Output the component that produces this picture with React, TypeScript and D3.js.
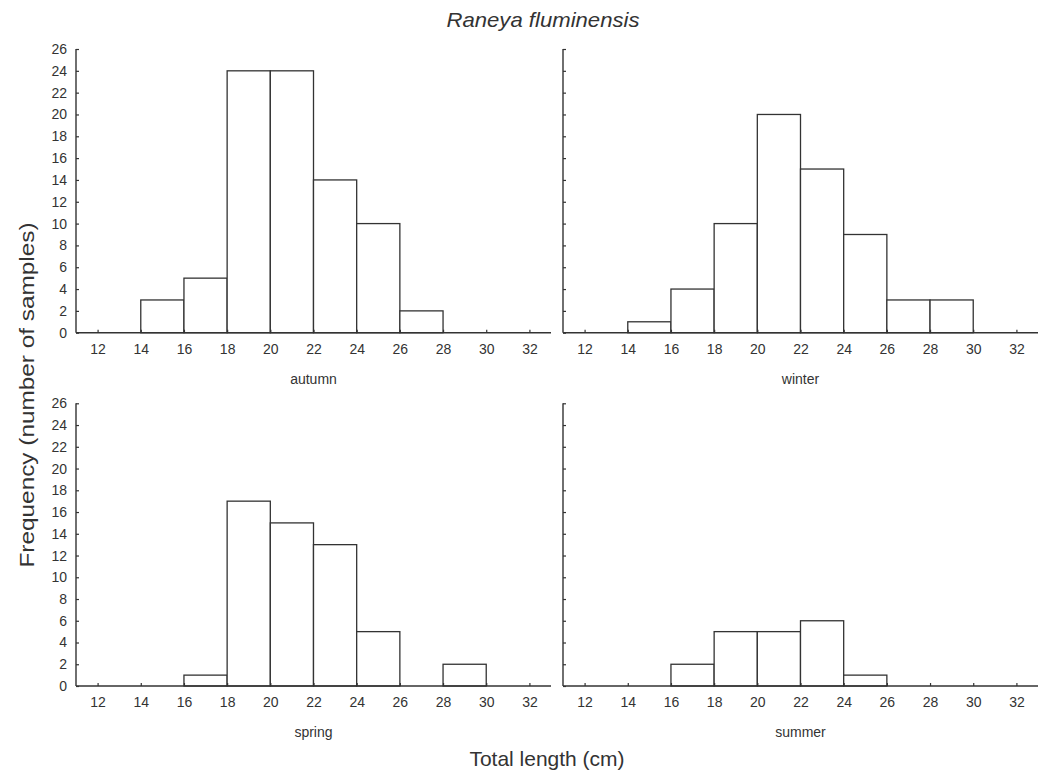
import * as d3 from 'd3'
import { useEffect, useRef } from 'react'

const WIDTH = 1042
const HEIGHT = 775
const INK = '#333333'
const FONT = 'Liberation Sans, Arial, sans-serif'

// bin lower edges (cm), bins are 2 cm wide
const binStarts = [12, 14, 16, 18, 20, 22, 24, 26, 28, 30]
const autumn = [0, 3, 5, 24, 24, 14, 10, 2, 0, 0]
const winter = [0, 1, 4, 10, 20, 15, 9, 3, 3, 0]
const spring = [0, 0, 1, 17, 15, 13, 5, 0, 2, 0]
const summer = [0, 0, 2, 5, 5, 6, 1, 0, 0, 0]
const seasons = ['autumn', 'winter', 'spring', 'summer']
const xTicks = [12, 14, 16, 18, 20, 22, 24, 26, 28, 30, 32]
const yTicks = [0, 2, 4, 6, 8, 10, 12, 14, 16, 18, 20, 22, 24, 26]

interface Panel {
  name: string
  counts: number[]
  x0: number
  x1: number
  yTop: number
  yBottom: number
  showYLabels: boolean
}

export default function App() {
  const svgRef = useRef<SVGSVGElement>(null)

  useEffect(() => {
    if (!svgRef.current) return
    const svg = d3.select(svgRef.current)
    svg.selectAll('*').remove()

    const panels: Panel[] = [
      { name: seasons[0], counts: autumn, x0: 76, x1: 551, yTop: 49, yBottom: 332.7, showYLabels: true },
      { name: seasons[1], counts: winter, x0: 563, x1: 1038, yTop: 49, yBottom: 332.7, showYLabels: false },
      { name: seasons[2], counts: spring, x0: 76, x1: 551, yTop: 403.3, yBottom: 686, showYLabels: true },
      { name: seasons[3], counts: summer, x0: 563, x1: 1038, yTop: 403.3, yBottom: 686, showYLabels: false },
    ]

    for (const p of panels) {
      const x = d3.scaleLinear().domain([11, 33]).range([p.x0, p.x1])
      const y = d3.scaleLinear().domain([0, 26]).range([p.yBottom, p.yTop])
      const g = svg.append('g')

      // bars
      g.selectAll('rect.bar')
        .data(binStarts.map((b, i) => ({ start: b, count: p.counts[i] })))
        .enter()
        .append('rect')
        .attr('class', 'bar')
        .attr('x', d => x(d.start))
        .attr('y', d => y(d.count))
        .attr('width', d => x(d.start + 2) - x(d.start))
        .attr('height', d => y(0) - y(d.count))
        .attr('fill', '#fff')
        .attr('stroke', INK)
        .attr('stroke-width', 1.3)

      // x axis
      const xa = g.append('g')
        .attr('transform', `translate(0, ${p.yBottom})`)
        .call(d3.axisBottom(x).tickValues(xTicks).tickSize(-3).tickSizeOuter(0).tickPadding(11))
      // y axis
      const ya = g.append('g')
        .attr('transform', `translate(${p.x0}, 0)`)
        .call(
          d3.axisLeft(y).tickValues(yTicks).tickSize(-3).tickSizeOuter(0).tickPadding(9)
            .tickFormat(d => (p.showYLabels ? String(d) : ''))
        )
      for (const a of [xa, ya]) {
        a.select('.domain').attr('stroke', INK).attr('stroke-width', 1.4)
        a.selectAll('.tick line').attr('stroke', INK).attr('stroke-width', 1.2)
        a.selectAll('.tick text').attr('fill', INK).attr('font-size', 14).attr('font-family', FONT)
      }
      // x axis domain starts at the y axis
      xa.select('.domain').attr('d', `M${p.x0},0H${p.x1}`)
      ya.select('.domain').attr('d', `M0,${p.yBottom}V${p.yTop}`)

      // season label
      g.append('text')
        .attr('x', (p.x0 + p.x1) / 2)
        .attr('y', p.yBottom + 51)
        .attr('text-anchor', 'middle')
        .attr('font-size', 14)
        .attr('font-family', FONT)
        .attr('fill', INK)
        .text(p.name)
    }

    // title
    svg.append('text')
      .attr('x', 543)
      .attr('y', 27)
      .attr('text-anchor', 'middle')
      .attr('font-size', 21)
      .attr('font-style', 'italic')
      .attr('font-family', FONT)
      .attr('fill', INK)
      .attr('textLength', 193)
      .attr('lengthAdjust', 'spacingAndGlyphs')
      .text('Raneya fluminensis')

    // axis titles
    svg.append('text')
      .attr('transform', 'translate(34, 395) rotate(-90)')
      .attr('text-anchor', 'middle')
      .attr('font-size', 21)
      .attr('font-family', FONT)
      .attr('fill', INK)
      .attr('textLength', 345)
      .attr('lengthAdjust', 'spacingAndGlyphs')
      .text('Frequency (number of samples)')

    svg.append('text')
      .attr('x', 547)
      .attr('y', 766)
      .attr('text-anchor', 'middle')
      .attr('font-size', 21)
      .attr('font-family', FONT)
      .attr('fill', INK)
      .text('Total length (cm)')
  }, [])

  return (
    <svg
      ref={svgRef}
      width={WIDTH}
      height={HEIGHT}
      style={{ position: 'absolute', left: 0, top: 0, background: '#fff' }}
    />
  )
}
